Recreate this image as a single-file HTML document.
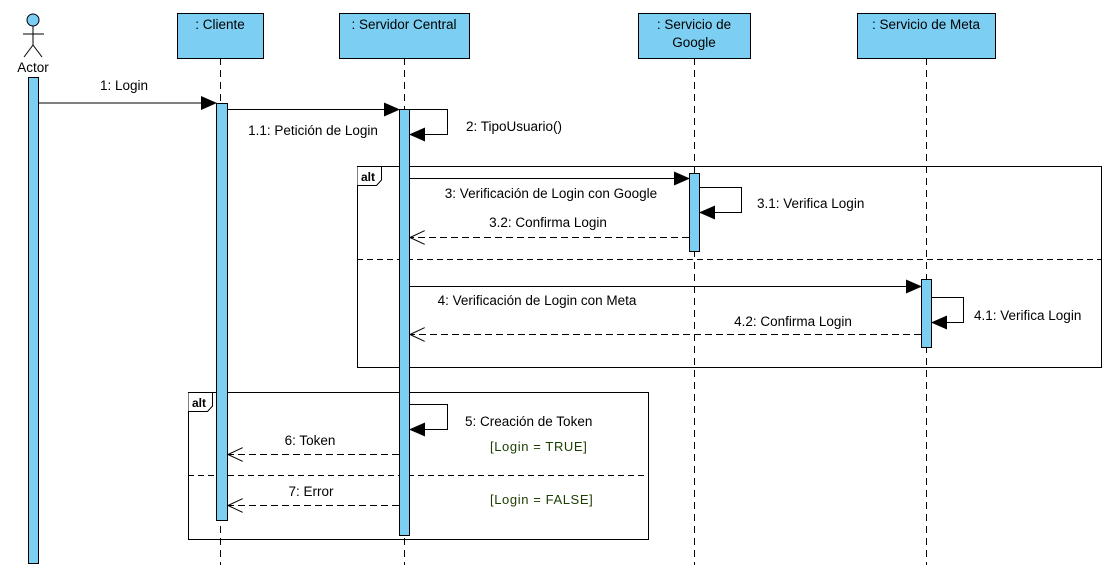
<!DOCTYPE html>
<html><head><meta charset="utf-8"><style>
html,body{margin:0;padding:0;background:#fff;}
svg text{font-family:"Liberation Sans",sans-serif;font-size:13.5px;fill:#000;}
</style></head><body>
<svg width="1109" height="575" viewBox="0 0 1109 575" xmlns="http://www.w3.org/2000/svg">
<defs>
<marker id="f" markerWidth="16" markerHeight="14" refX="15" refY="7" orient="auto" markerUnits="userSpaceOnUse"><path d="M0,0 L16,7 L0,14 Z" fill="#000"/></marker>
<marker id="o" markerWidth="16" markerHeight="14" refX="15" refY="7" orient="auto" markerUnits="userSpaceOnUse"><path d="M0,0 L15,7 L0,14" fill="none" stroke="#000" stroke-width="1"/></marker>
</defs>
<g stroke="#000" stroke-width="1" stroke-dasharray="7,5" fill="none">
<line x1="220.5" y1="58" x2="220.5" y2="565"/>
<line x1="404.5" y1="58" x2="404.5" y2="565"/>
<line x1="694.5" y1="58" x2="694.5" y2="565"/>
<line x1="926.5" y1="58" x2="926.5" y2="565"/>
</g>
<rect x="357.5" y="166.5" width="744" height="201" fill="none" stroke="#000"/>
<line x1="357" y1="259.5" x2="1101" y2="259.5" stroke="#000" stroke-dasharray="6,4"/>
<path d="M357.5,166.5 H381.5 V180 L376.5,185.5 H357.5" fill="#fff" stroke="#000"/>
<text x="361" y="181" style="font-weight:bold;font-size:12px">alt</text>
<rect x="188.5" y="392.5" width="460" height="147" fill="none" stroke="#000"/>
<line x1="188" y1="475.5" x2="648" y2="475.5" stroke="#000" stroke-dasharray="6,4"/>
<path d="M188.5,392.5 H212.5 V406 L207.5,411.5 H188.5" fill="#fff" stroke="#000"/>
<text x="192" y="407" style="font-weight:bold;font-size:12px">alt</text>
<g fill="#7ccff2" stroke="#000">
<rect x="177.5" y="13.5" width="86" height="45"/>
<rect x="339.5" y="13.5" width="130" height="45"/>
<rect x="638.5" y="13.5" width="112" height="45"/>
<rect x="857.5" y="13.5" width="138" height="45"/>
<circle cx="33" cy="20" r="6"/>
</g>
<g stroke="#000" fill="none"><line x1="33" y1="26" x2="33" y2="45"/><line x1="23" y1="34" x2="44" y2="34"/><line x1="33" y1="45" x2="24" y2="57"/><line x1="33" y1="45" x2="42" y2="57"/></g>
<text x="33" y="72" text-anchor="middle">Actor</text>
<text x="220" y="29" text-anchor="middle">: Cliente</text>
<text x="404" y="29" text-anchor="middle">: Servidor Central</text>
<text x="694" y="29" text-anchor="middle">: Servicio de</text>
<text x="694" y="47" text-anchor="middle">Google</text>
<text x="926" y="29" text-anchor="middle">: Servicio de Meta</text>
<g fill="#7ccff2" stroke="#000">
<rect x="28.5" y="77.5" width="10" height="486"/>
<rect x="216.5" y="103.5" width="11" height="417"/>
<rect x="399.5" y="109.5" width="10" height="426"/>
<rect x="689.5" y="173.5" width="10" height="78"/>
<rect x="921.5" y="279.5" width="10" height="68"/>
</g>
<g stroke="#000" fill="none">
<line x1="38" y1="103" x2="216" y2="103" marker-end="url(#f)"/>
<line x1="227" y1="109.5" x2="399" y2="109.5" marker-end="url(#f)"/>
<polyline points="409,109.5 447.5,109.5 447.5,134.5 410,134.5" marker-end="url(#f)"/>
<line x1="409" y1="178.5" x2="689" y2="178.5" marker-end="url(#f)"/>
<polyline points="699,187.5 741.5,187.5 741.5,212.5 700,212.5" marker-end="url(#f)"/>
<line x1="689" y1="237.5" x2="410" y2="237.5" stroke-dasharray="7,4" marker-end="url(#o)"/>
<line x1="409" y1="286.5" x2="921" y2="286.5" marker-end="url(#f)"/>
<polyline points="931,297.5 963.5,297.5 963.5,322.5 932,322.5" marker-end="url(#f)"/>
<line x1="921" y1="334.5" x2="410" y2="334.5" stroke-dasharray="7,4" marker-end="url(#o)"/>
<polyline points="409,404.5 447.5,404.5 447.5,429.5 410,429.5" marker-end="url(#f)"/>
<line x1="399" y1="454.5" x2="228" y2="454.5" stroke-dasharray="7,4" marker-end="url(#o)"/>
<line x1="399" y1="505.5" x2="228" y2="505.5" stroke-dasharray="7,4" marker-end="url(#o)"/>
</g>
<text x="124" y="90" text-anchor="middle">1: Login</text>
<text x="313" y="135" text-anchor="middle">1.1: Petición de Login</text>
<text x="466" y="131">2: TipoUsuario()</text>
<text x="551" y="198" text-anchor="middle">3: Verificación de Login con Google</text>
<text x="757" y="208">3.1: Verifica Login</text>
<text x="548" y="227" text-anchor="middle">3.2: Confirma Login</text>
<text x="537" y="305" text-anchor="middle">4: Verificación de Login con Meta</text>
<text x="974" y="320">4.1: Verifica Login</text>
<text x="793" y="326" text-anchor="middle">4.2: Confirma Login</text>
<text x="465" y="426">5: Creación de Token</text>
<text x="310" y="445" text-anchor="middle">6: Token</text>
<text x="311" y="496" text-anchor="middle">7: Error</text>
<text x="490" y="451" style="fill:#1a3d00;font-size:13px;letter-spacing:0.6px">[Login = TRUE]</text>
<text x="490" y="504" style="fill:#1a3d00;font-size:13px;letter-spacing:0.6px">[Login = FALSE]</text>
</svg>
</body></html>
